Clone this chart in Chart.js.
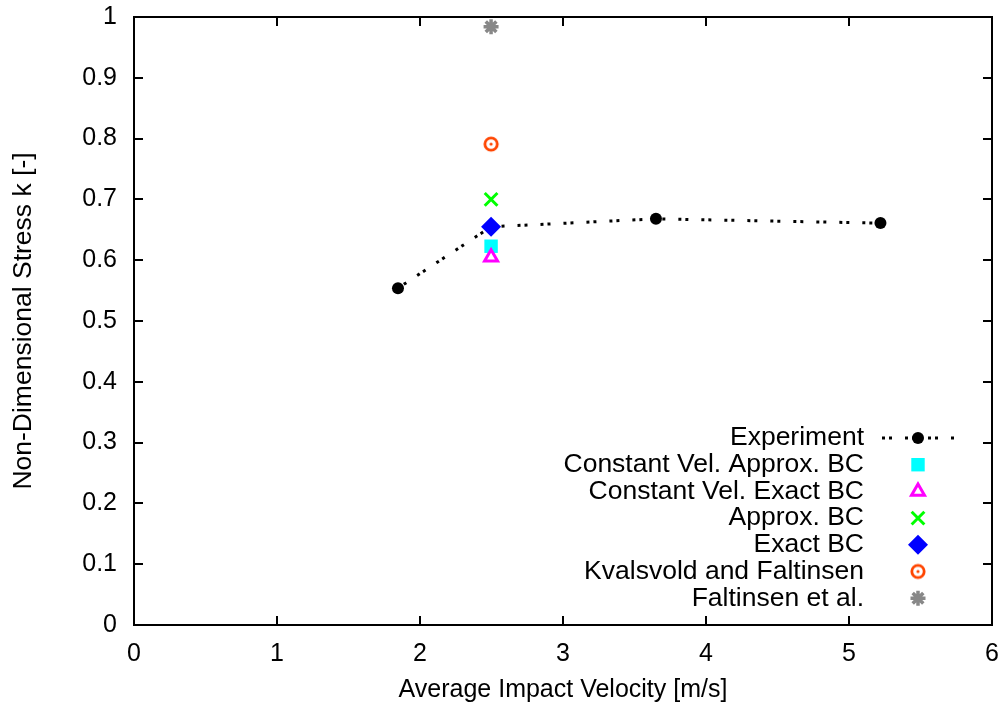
<!DOCTYPE html>
<html><head><meta charset="utf-8">
<script src="https://cdn.jsdelivr.net/npm/chart.js@4/dist/chart.umd.min.js"></script>
<style>html,body{margin:0;padding:0;background:#fff}#wrap{width:1004px;height:709px}</style>
</head><body><div id="wrap"><canvas id="c" width="1004" height="709"></canvas></div>
<script>
const expX = [1.846, 2.497, 3.65, 5.22];
const expY = [0.554, 0.655, 0.668, 0.661];
const modelX = 2.497;
const constVelApproxY = 0.623;
const constVelExactY = 0.605;
const approxBCY = 0.700;
const exactBCY = 0.655;
const kvalsvoldY = 0.791;
const faltinsenY = 0.984;
const seriesNames = ["Experiment","Constant Vel. Approx. BC","Constant Vel. Exact BC","Approx. BC","Exact BC","Kvalsvold and Faltinsen","Faltinsen et al."];
const xTicks = [0,1,2,3,4,5,6];
const yTicks = [0,0.1,0.2,0.3,0.4,0.5,0.6,0.7,0.8,0.9,1];

const FONT = "'Liberation Sans', Arial, sans-serif";

function circDot(color){
  const c=document.createElement('canvas');c.width=18;c.height=18;
  const g=c.getContext('2d');g.strokeStyle=color;g.lineWidth=2.8;
  g.beginPath();g.arc(9,9,6.2,0,Math.PI*2);g.stroke();
  g.fillStyle=color;g.beginPath();g.arc(9,9,1.6,0,Math.PI*2);g.fill();
  return c;
}
const orangeMarker = circDot('#ff4500');

const datasets = [
  {label:seriesNames[0], order:10, data:expX.map((x,i)=>({x, y:expY[i]})), showLine:true, borderColor:'#000', borderWidth:3, borderDash:[3,4,3,13], pointStyle:'circle', pointRadius:6, pointBackgroundColor:'#000', pointBorderColor:'#000', pointBorderWidth:0},
  {label:seriesNames[1], order:5, data:[{x:modelX,y:constVelApproxY}], pointStyle:'rect', pointRadius:9.5, pointBackgroundColor:'#00ffff', pointBorderColor:'#00ffff', pointBorderWidth:0},
  {label:seriesNames[2], order:4, data:[{x:modelX,y:constVelExactY}], pointStyle:'triangle', pointRadius:7.5, pointBackgroundColor:'rgba(0,0,0,0)', pointBorderColor:'#ff00ff', pointBorderWidth:3},
  {label:seriesNames[3], order:3, data:[{x:modelX,y:approxBCY}], pointStyle:'crossRot', pointRadius:9, pointBackgroundColor:'#00ff00', pointBorderColor:'#00ff00', pointBorderWidth:3},
  {label:seriesNames[4], order:2, data:[{x:modelX,y:exactBCY}], pointStyle:'rectRot', pointRadius:10, pointBackgroundColor:'#0000ff', pointBorderColor:'#0000ff', pointBorderWidth:0},
  {label:seriesNames[5], order:1, data:[{x:modelX,y:kvalsvoldY}], pointStyle:orangeMarker, pointRadius:9, pointBackgroundColor:'#ff4500', pointBorderColor:'#ff4500', pointBorderWidth:0},
  {label:seriesNames[6], order:0, data:[{x:modelX,y:faltinsenY}], pointStyle:'star', pointRadius:7.5, pointBackgroundColor:'#888888', pointBorderColor:'#888888', pointBorderWidth:3.5}
];

const frame = {
  id:'frame',
  afterDraw(chart){
    const ctx=chart.ctx, a=chart.chartArea, xs=chart.scales.x, ys=chart.scales.y;
    ctx.save();
    ctx.strokeStyle='#000';ctx.lineWidth=2;
    ctx.strokeRect(a.left,a.top,a.right-a.left,a.bottom-a.top);
    ctx.beginPath();
    const L=9;
    xTicks.forEach(v=>{const p=Math.round(xs.getPixelForValue(v));ctx.moveTo(p,a.bottom);ctx.lineTo(p,a.bottom-L);ctx.moveTo(p,a.top);ctx.lineTo(p,a.top+L);});
    yTicks.forEach(v=>{const p=Math.round(ys.getPixelForValue(v));ctx.moveTo(a.left,p);ctx.lineTo(a.left+L,p);ctx.moveTo(a.right,p);ctx.lineTo(a.right-L,p);});
    ctx.stroke();
    // legend
    ctx.font='26.5px '+FONT;ctx.textAlign='right';ctx.textBaseline='middle';
    const tx=864, sx=918, y0=438, dy=26.7;
    chart.data.datasets.forEach((d,i)=>{
      const y=y0+i*dy;
      ctx.fillStyle='#000';
      ctx.fillText(d.label,tx,y);
      if(i===0){
        ctx.save();ctx.strokeStyle='#000';ctx.lineWidth=3;ctx.setLineDash([3,4,3,13]);
        ctx.beginPath();ctx.moveTo(882,y);ctx.lineTo(958,y);ctx.stroke();ctx.restore();
      }
      ctx.save();ctx.setLineDash([]);
      ctx.fillStyle=d.pointBackgroundColor;ctx.strokeStyle=d.pointBorderColor;ctx.lineWidth=d.pointBorderWidth;
      ctx.beginPath();
      Chart.helpers.drawPoint(ctx,{pointStyle:d.pointStyle,radius:d.pointRadius,borderWidth:d.pointBorderWidth,rotation:0},sx,y);
      ctx.restore();
    });
    ctx.restore();
  }
};

new Chart(document.getElementById('c'),{
  type:'scatter',
  data:{datasets},
  options:{
    responsive:false, animation:false, devicePixelRatio:1,
    layout:{padding:{left:0,right:12,top:17,bottom:0}},
    plugins:{legend:{display:false},tooltip:{enabled:false}},
    scales:{
      x:{type:'linear',min:0,max:6,
        afterFit(s){s.height=84;s.paddingLeft=0;s.paddingRight=0;},
        afterBuildTicks(s){s.ticks=xTicks.map(v=>({value:v}));},
        grid:{display:false,drawTicks:false},border:{display:false},
        ticks:{padding:14,color:'#000',font:{family:FONT,size:25},callback:v=>String(v)},
        title:{display:true,text:'Average Impact Velocity [m/s]',color:'#000',font:{family:FONT,size:25},padding:{top:6}}},
      y:{type:'linear',min:0,max:1,
        afterFit(s){s.width=134;s.paddingTop=0;s.paddingBottom=0;},
        afterBuildTicks(s){s.ticks=yTicks.map(v=>({value:v}));},
        grid:{display:false,drawTicks:false},border:{display:false},
        ticks:{padding:17,color:'#000',font:{family:FONT,size:25},callback:v=>String(Math.round(v*10)/10)},
        title:{display:true,text:'Non-Dimensional Stress k [-]',color:'#000',font:{family:FONT,size:26.5},padding:{top:8,bottom:0}}}
    }
  },
  plugins:[frame]
});
</script></body></html>
